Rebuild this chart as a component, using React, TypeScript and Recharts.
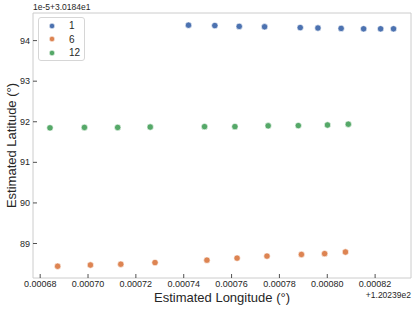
import React from 'react';
import { ScatterChart, Scatter, XAxis, YAxis, Legend, Label, ReferenceArea } from 'recharts';

// longitude shown as offset from 120.239, latitude as 1e-5 units above 30.184
const lon1 = [0.000742, 0.000753, 0.0007632, 0.0007738, 0.0007887, 0.0007961, 0.0008058, 0.0008152, 0.0008223, 0.0008277];
const lat1 = [94.38, 94.37, 94.35, 94.34, 94.32, 94.31, 94.3, 94.29, 94.29, 94.29];

const lon6 = [0.0006873, 0.000701, 0.0007137, 0.000728, 0.0007497, 0.0007623, 0.0007748, 0.0007892, 0.0007989, 0.0008076];
const lat6 = [88.44, 88.47, 88.49, 88.53, 88.59, 88.64, 88.69, 88.73, 88.75, 88.79];

const lon12 = [0.0006841, 0.0006985, 0.0007124, 0.000726, 0.0007487, 0.0007614, 0.0007753, 0.0007879, 0.0008001, 0.0008088];
const lat12 = [91.85, 91.86, 91.86, 91.87, 91.88, 91.88, 91.9, 91.905, 91.92, 91.94];

const seriesNames = ['1', '6', '12'];
const xTicks = [0.00068, 0.0007, 0.00072, 0.00074, 0.00076, 0.00078, 0.0008, 0.00082];
const yTicks = [89, 90, 91, 92, 93, 94];
const xDomain = [0.000677, 0.000835];
const yDomain = [88.15, 94.68];

const COLORS = ['#4C72B0', '#DD8452', '#55A868'];
const FONT = '"Liberation Sans", Arial, sans-serif';
const INK = '#262626';

const zip = (xs: number[], ys: number[]) => xs.map((x, i) => ({ lon: x, lat: ys[i] }));
const seriesData = [zip(lon1, lat1), zip(lon6, lat6), zip(lon12, lat12)];

const XTick = ({ x, y, payload }: any) => (
    <g>
        <line x1={x} x2={x} y1={y - 4} y2={y} stroke={INK} strokeWidth={0.8} />
        <text x={x} y={y + 6} textAnchor="middle" dominantBaseline="central" fontSize={9} fontFamily={FONT} fill={INK}>
            {Number(payload.value).toFixed(5)}
        </text>
    </g>
);

const YTick = ({ x, y, payload }: any) => (
    <g>
        <line x1={x} x2={x + 4} y1={y} y2={y} stroke={INK} strokeWidth={0.8} />
        <text x={x - 3} y={y} textAnchor="end" dominantBaseline="central" fontSize={9} fontFamily={FONT} fill={INK}>
            {payload.value}
        </text>
    </g>
);

const XTitle = ({ viewBox }: any) => (
    <text x={viewBox.x + viewBox.width / 2} y={viewBox.y + 19} textAnchor="middle" dominantBaseline="central" fontSize={13} fontFamily={FONT} fill={INK}>
        Estimated Longitude (°)
    </text>
);

const XOffset = ({ viewBox }: any) => (
    <text x={viewBox.x + viewBox.width} y={viewBox.y + 17} textAnchor="end" dominantBaseline="central" fontSize={8.5} fontFamily={FONT} fill={INK}>
        +1.20239e2
    </text>
);

const YTitle = ({ viewBox }: any) => {
    const cx = viewBox.x + 11;
    const cy = viewBox.y + viewBox.height / 2;
    return (
        <text x={cx} y={cy} transform={`rotate(-90, ${cx}, ${cy})`} textAnchor="middle" dominantBaseline="central" fontSize={13} fontFamily={FONT} fill={INK}>
            Estimated Latitude (°)
        </text>
    );
};

const YOffset = ({ viewBox }: any) => (
    <text x={viewBox.x + viewBox.width} y={viewBox.y - 6} textAnchor="start" dominantBaseline="central" fontSize={8.5} fontFamily={FONT} fill={INK}>
        1e-5+3.0184e1
    </text>
);

const Dot = ({ cx, cy, fill }: any) => <circle cx={cx} cy={cy} r={3.2} fill={fill} stroke="#ffffff" strokeWidth={0.6} />;

const LegendBox = ({ payload }: any) => {
    const items = seriesNames.map(name => (payload || []).find((p: any) => p.value === name)).filter(Boolean);
    return (
        <div style={{ boxSizing: 'border-box', width: 47, height: 44, paddingTop: 1, border: '1px solid #d6d6d6', borderRadius: 3, background: 'rgba(255,255,255,0.8)', fontFamily: FONT, fontSize: 10, color: INK }}>
            {items.map((entry: any) => (
                <div key={entry.value} style={{ display: 'flex', alignItems: 'center', height: 13.5, paddingLeft: 10 }}>
                    <svg width={6} height={6} style={{ display: 'block' }}>
                        <circle cx={3} cy={3} r={2.7} fill={entry.color} stroke="#ffffff" strokeWidth={0.5} />
                    </svg>
                    <span style={{ marginLeft: 14 }}>{entry.value}</span>
                </div>
            ))}
        </div>
    );
};

export default function App() {
    return (
        <div style={{ position: 'absolute', left: 0, top: 0 }}>
            <ScatterChart width={416} height={310} margin={{ top: 13, right: 5, bottom: 0, left: 0 }}>
                <XAxis dataKey="lon" type="number" domain={xDomain} ticks={xTicks} allowDataOverflow
                    height={32} tickSize={0} tickMargin={0} axisLine={false} tickLine={false} tick={<XTick />} interval={0}>
                    <Label content={<XTitle />} />
                    <Label content={<XOffset />} />
                </XAxis>
                <YAxis dataKey="lat" type="number" domain={yDomain} ticks={yTicks} allowDataOverflow
                    width={33} tickSize={0} tickMargin={0} axisLine={false} tickLine={false} tick={<YTick />} interval={0}>
                    <Label content={<YTitle />} />
                    <Label content={<YOffset />} />
                </YAxis>
                <ReferenceArea x1={xDomain[0]} x2={xDomain[1]} y1={yDomain[0]} y2={yDomain[1]} fill="none" stroke="#cccccc" strokeWidth={1} fillOpacity={0} />
                {seriesData.map((d, i) => (
                    <Scatter key={seriesNames[i]} name={seriesNames[i]} data={d} fill={COLORS[i]} shape={<Dot />} legendType="circle" isAnimationActive={false} />
                ))}
                <Legend layout="vertical" align="center" verticalAlign="middle" content={<LegendBox />}
                    wrapperStyle={{ left: 38, top: 17, width: 47, height: 44 }} />
            </ScatterChart>
        </div>
    );
}
